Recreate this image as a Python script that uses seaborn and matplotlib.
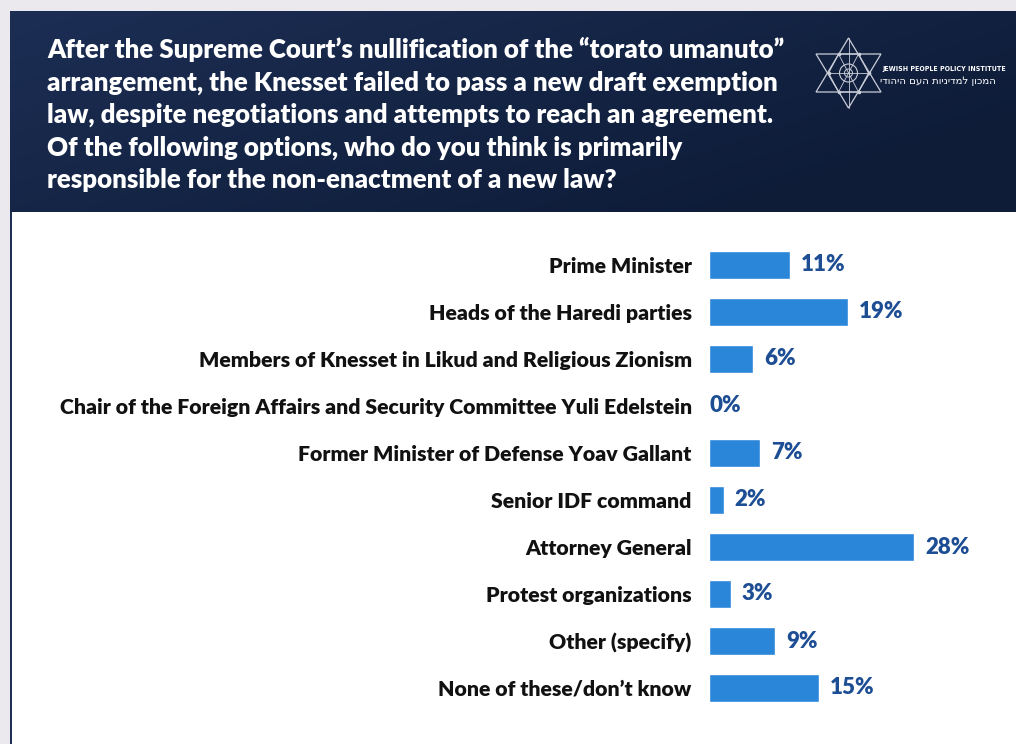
import numpy as np
import pandas as pd
import matplotlib
matplotlib.use("Agg")
import matplotlib.pyplot as plt
from matplotlib.patches import Rectangle, Polygon, Circle
import seaborn as sns

# Survey answers and shares (%)
options = [
    "Prime Minister",
    "Heads of the Haredi parties",
    "Members of Knesset in Likud and Religious Zionism",
    "Chair of the Foreign Affairs and Security Committee Yuli Edelstein",
    "Former Minister of Defense Yoav Gallant",
    "Senior IDF command",
    "Attorney General",
    "Protest organizations",
    "Other (specify)",
    "None of these/don\u2019t know",
]
shares = [11, 19, 6, 0, 7, 2, 28, 3, 9, 15]

title_lines = [
    "After the Supreme Court\u2019s nullification of the \u201ctorato umanuto\u201d",
    "arrangement, the Knesset failed to pass a new draft exemption",
    "law, despite negotiations and attempts to reach an agreement.",
    "Of the following options, who do you think is primarily",
    "responsible for the non-enactment of a new law?",
]
org_name_en = "JEWISH PEOPLE POLICY INSTITUTE"
org_name_he = "המכון למדיניות העם היהודי"

W, H = 1016, 744
BAR = "#2a86d9"
VALUE = "#1d4e94"
NAVY_LIGHT = "#1c2e54"
NAVY_DARK = "#0e1c38"

sns.set_theme(style="white")
plt.rcParams["font.family"] = ["Lato", "DejaVu Sans"]


def fx(x):
    return x / W


def fy(y):
    return 1 - y / H


fig = plt.figure(figsize=(W / 100, H / 100), dpi=100)
fig.patch.set_facecolor("#ebe9ee")

# white content panel with a thin navy edge on the left
fig.add_artist(Rectangle((fx(12), 0), 1 - fx(12), fy(212), transform=fig.transFigure,
                         facecolor="white", edgecolor="none", zorder=0))
fig.add_artist(Rectangle((fx(10), 0), fx(2), fy(212), transform=fig.transFigure,
                         facecolor=NAVY_LIGHT, edgecolor="none", zorder=0))

# header band with a diagonal gradient
hdr = fig.add_axes([fx(10), fy(212), fx(W - 10), (212 - 11) / H])
gx, gy = np.meshgrid(np.linspace(0, 1, 200), np.linspace(0, 1, 60))
t = np.clip(0.75 * gx + 0.45 * gy, 0, 1)
c0 = np.array(matplotlib.colors.to_rgb(NAVY_LIGHT))
c1 = np.array(matplotlib.colors.to_rgb(NAVY_DARK))
grad = c0[None, None, :] * (1 - t[..., None]) + c1[None, None, :] * t[..., None]
hdr.imshow(grad, aspect="auto", origin="upper", extent=[0, 1, 0, 1])
hdr.set_axis_off()

for i, line in enumerate(title_lines):
    fig.text(fx(47), fy(58 + i * 32.5), line, color="white", fontsize=18.6,
             fontweight="heavy", ha="left", va="baseline")

# logo: interlaced star with an inner hexagon
lg = fig.add_axes([fx(810), fy(112), fx(76), 76 / H])
lg.set_xlim(810, 886)
lg.set_ylim(112, 36)
lg.set_axis_off()
cx, top, bot, left, right, up_base, dn_top = 848.5, 38, 108, 816, 881, 92, 54
lc = "#c9cdd8"
lg.add_patch(Polygon([(cx, top), (left, up_base), (right, up_base)], closed=True,
                     fill=False, edgecolor=lc, lw=0.9))
lg.add_patch(Polygon([(cx, bot), (left, dn_top), (right, dn_top)], closed=True,
                     fill=False, edgecolor=lc, lw=0.9))
hexpts = [(cx - 10, dn_top), (cx + 10, dn_top), (cx + 20, 73), (cx + 10, up_base),
          (cx - 10, up_base), (cx - 20, 73)]
lg.add_patch(Polygon(hexpts, closed=True, fill=False, edgecolor=lc, lw=0.8))
lg.add_patch(Circle((cx, 73), 9, fill=False, edgecolor=lc, lw=0.8))
lg.add_patch(Circle((cx, 73), 4, fill=False, edgecolor=lc, lw=0.7))
for a, b in [((cx - 10, dn_top), (cx + 10, up_base)), ((cx + 10, dn_top), (cx - 10, up_base)),
             ((cx - 20, 73), (cx + 20, 73)), ((cx, top), (cx, bot))]:
    lg.plot([a[0], b[0]], [a[1], b[1]], color=lc, lw=0.6)
for p in hexpts:
    lg.plot(*p, "o", color=lc, ms=1.6)

fig.text(fx(882), fy(69.5), org_name_en, color="white", fontsize=5.0, fontweight="bold",
         family=["DejaVu Sans"], fontstretch="condensed", ha="left", va="center")
fig.text(fx(880), fy(80.5), org_name_he[::-1], color="white", fontsize=7.3,
         family=["DejaVu Sans"], ha="left", va="center")

# bar chart
df = pd.DataFrame({"option": options, "share": shares})
px_per_pct = 7.32
ax = fig.add_axes([fx(709), fy(711.5), fx(1000 - 709), 470 / H])
sns.barplot(data=df, x="share", y="option", orient="h", color=BAR, saturation=1,
            width=0.59, ax=ax)
ax.set_xlim(0, (1000 - 709) / px_per_pct)
ax.set_ylim(len(options) - 0.5, -0.5)
ax.set_facecolor("none")
for s in ax.spines.values():
    s.set_visible(False)
ax.set_xticks([])
ax.set_xlabel("")
ax.set_ylabel("")
ax.tick_params(axis="y", length=0, pad=12.5)
for lab in ax.get_yticklabels():
    lab.set_fontsize(15.3)
    lab.set_fontweight("heavy")
    lab.set_color("#111111")

for i, v in enumerate(shares):
    off = 11 if v > 0 else 1
    ax.annotate(f"{v}%", xy=(v, i), xytext=(off * 0.72, 0), textcoords="offset points",
                ha="left", va="center", color=VALUE, fontsize=16, fontweight="heavy")

fig.savefig("out.png", dpi=100, facecolor=fig.get_facecolor())
